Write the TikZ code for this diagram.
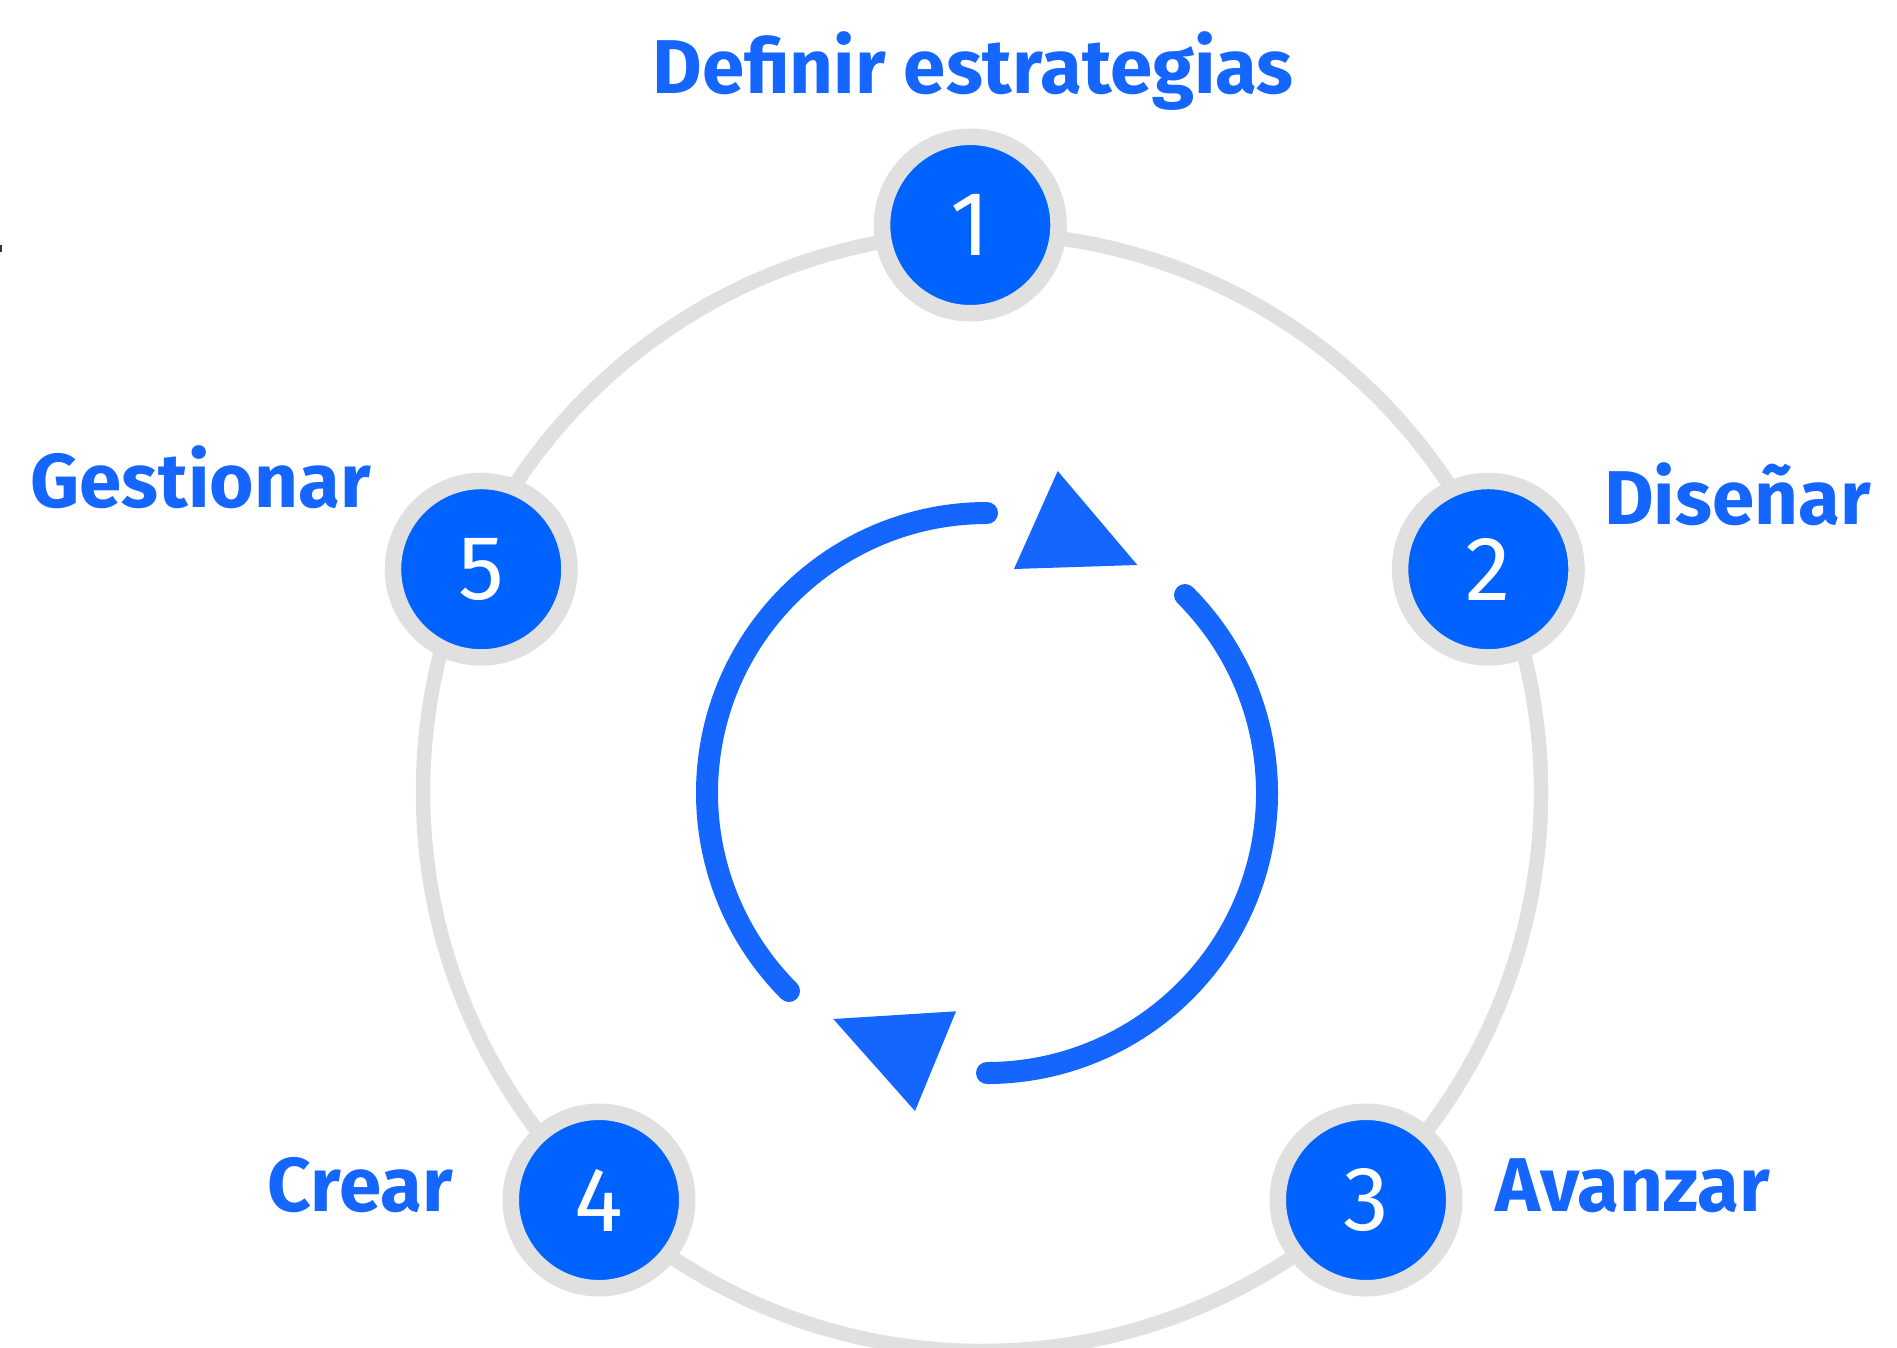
\documentclass[tikz,border=0pt]{standalone}
\usepackage{fontspec}
\newfontfamily\labelfont{Fira Sans}
\newfontfamily\numfont{Fira Sans}
\definecolor{stepblue}{HTML}{0062FF}
\definecolor{textblue}{HTML}{1466FF}
\definecolor{ringgray}{HTML}{E0E0E0}

\begin{document}
\begin{tikzpicture}[
    stage/.style={circle, fill=stepblue, draw=ringgray, line width=0.165cm,
        minimum size=1.765cm, inner sep=0pt, text=white, font=\numfont\fontsize{26}{26}\selectfont},
    steplabel/.style={text=textblue, inner sep=0pt, font=\labelfont\bfseries\fontsize{21.7}{21.7}\selectfont},
    loopline/.style={draw=textblue, line width=0.22cm, line cap=round},
    looptip/.style={fill=textblue}]
    \useasboundingbox (0, 0) rectangle (18.97, 13.47);
    \clip (0, 0) rectangle (18.97, 13.47);
    \fill[black!80] (0, 10.95) rectangle (0.02, 11.02);

    \draw[ringgray, line width=0.145cm] (9.82, 5.55) circle (5.59);

    \node[stage] (s1) at (9.703, 11.22) {1};
    \node[stage] (s2) at (14.883, 7.778) {2};
    \node[stage] (s3) at (13.66, 1.47) {3};
    \node[stage] (s4) at (5.99, 1.47) {4};
    \node[stage] (s5) at (4.812, 7.778) {5};

    \node[steplabel, anchor=base] (define) at (9.73, 12.53) {Definir estrategias};
    \node[steplabel, anchor=base west] (design) at (16.036, 8.23) {Diseñar};
    \node[steplabel, anchor=base west] (advance) at (14.947, 1.36) {Avanzar};
    \node[steplabel, anchor=base west] (create) at (2.67, 1.36) {Crear};
    \node[steplabel, anchor=base west] (manage) at (0.30, 8.40) {Gestionar};

    \coordinate (hub) at (9.87, 5.54);
    \draw[loopline] ([shift={(90:2.8)}]hub) arc[start angle=90, end angle=225, radius=2.8];
    \draw[loopline] ([shift={(45:2.8)}]hub) arc[start angle=45, end angle=-90, radius=2.8];
    \fill[looptip] (10.577, 8.76) -- (11.373, 7.82) -- (10.14, 7.78) -- cycle;
    \fill[looptip] (8.333, 3.28) -- (9.56, 3.357) -- (9.15, 2.36) -- cycle;
\end{tikzpicture}
\end{document}
